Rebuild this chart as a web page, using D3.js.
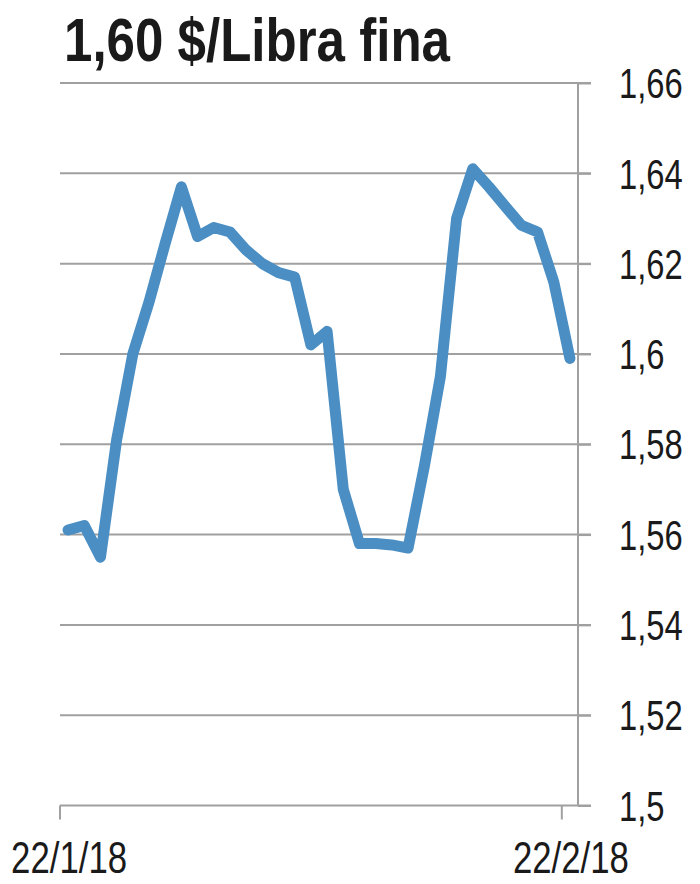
<!DOCTYPE html>
<html>
<head>
<meta charset="utf-8">
<script src="https://cdn.jsdelivr.net/npm/d3@7/dist/d3.min.js"></script>
<style>
  html, body { margin: 0; padding: 0; background: #ffffff; }
  svg { display: block; }
</style>
</head>
<body>
<script>
// ---- Data ----
const title = "1,60 $/Libra fina";
const startDate = "2018-01-22";
const prices = [
  1.561, 1.562, 1.555, 1.581, 1.600, 1.6115, 1.6245, 1.637,
  1.626, 1.628, 1.627, 1.623, 1.620, 1.618, 1.617, 1.602,
  1.605, 1.570, 1.558, 1.558, 1.5577, 1.557, 1.575, 1.595,
  1.630, 1.641, 1.637, 1.6327, 1.6285, 1.627, 1.616, 1.599
];
const yTicks = [1.5, 1.52, 1.54, 1.56, 1.58, 1.6, 1.62, 1.64, 1.66];
const xTickLabels = ["22/1/18", "22/2/18"];

// ---- Build ----
const W = 700, H = 884;
const parse = d3.timeParse("%Y-%m-%d");
const d0 = parse(startDate);
const dates = prices.map((_, i) => d3.timeDay.offset(d0, i));
const data = dates.map((d, i) => ({ date: d, value: prices[i] }));

const svg = d3.select("body").append("svg").attr("width", W).attr("height", H);

const x = d3.scaleBand().domain(dates).range([60, 578]).paddingInner(0).paddingOuter(0);
const y = d3.scaleLinear().domain([1.5, 1.66]).range([805.5, 83]);
const cx = d => x(d) + x.bandwidth() / 2;

const font = "'Liberation Sans', Arial, Helvetica, sans-serif";
const gridColor = "#a0a0a0";
const textColor = "#1a1a1a";

// gridlines
svg.append("g").selectAll("line").data(yTicks.filter(t => t > 1.5)).join("line")
  .attr("x1", 60).attr("x2", 591)
  .attr("y1", d => y(d)).attr("y2", d => y(d))
  .attr("stroke", gridColor).attr("stroke-width", 2);

// right axis
const yAxis = d3.axisRight(y).tickValues(yTicks).tickSize(13).tickPadding(28)
  .tickFormat(d => String(d).replace(".", ","));
const gy = svg.append("g").attr("transform", "translate(578,0)").call(yAxis);
gy.select(".domain").attr("stroke", gridColor).attr("stroke-width", 2).attr("d", `M0,${y(1.66)}V${y(1.5)}`);
gy.selectAll(".tick line").attr("stroke", gridColor).attr("stroke-width", 2);
gy.selectAll(".tick text")
  .attr("x", 0)
  .attr("transform", "translate(41,0) scale(0.78,1)")
  .attr("font-family", font).attr("font-size", 42)
  .attr("fill", textColor).attr("dy", "0.35em");

// bottom axis
const tickDates = [dates[0], dates[dates.length - 1]];
const xAxis = d3.axisBottom(x).tickValues(tickDates).tickSize(14).tickPadding(12)
  .tickFormat((d, i) => xTickLabels[i]);
const gx = svg.append("g").attr("transform", `translate(0,${y(1.5)})`).call(xAxis);
gx.select(".domain").attr("stroke", gridColor).attr("stroke-width", 2).attr("d", "M60,0H591");
gx.selectAll(".tick").attr("transform", d => `translate(${x(d)},0)`);
gx.selectAll(".tick line").attr("stroke", gridColor).attr("stroke-width", 2);
gx.selectAll(".tick text")
  .attr("x", 0).attr("y", 0).attr("dy", 0)
  .attr("transform", `translate(${x.bandwidth() / 2 + 1},67) scale(0.79,1)`)
  .attr("font-family", font).attr("font-size", 44).attr("fill", textColor);

// line
const line = d3.line().x(d => cx(d.date)).y(d => y(d.value));
svg.append("path").datum(data)
  .attr("d", line)
  .attr("fill", "none")
  .attr("stroke", "#4a8ec3")
  .attr("stroke-width", 11)
  .attr("stroke-linejoin", "round")
  .attr("stroke-linecap", "round");

// title
svg.append("text").attr("x", 64).attr("y", 61)
  .attr("font-family", font).attr("font-weight", "bold")
  .attr("font-size", 62).attr("fill", textColor)
  .attr("textLength", 386).attr("lengthAdjust", "spacingAndGlyphs")
  .text(title);
</script>
</body>
</html>
